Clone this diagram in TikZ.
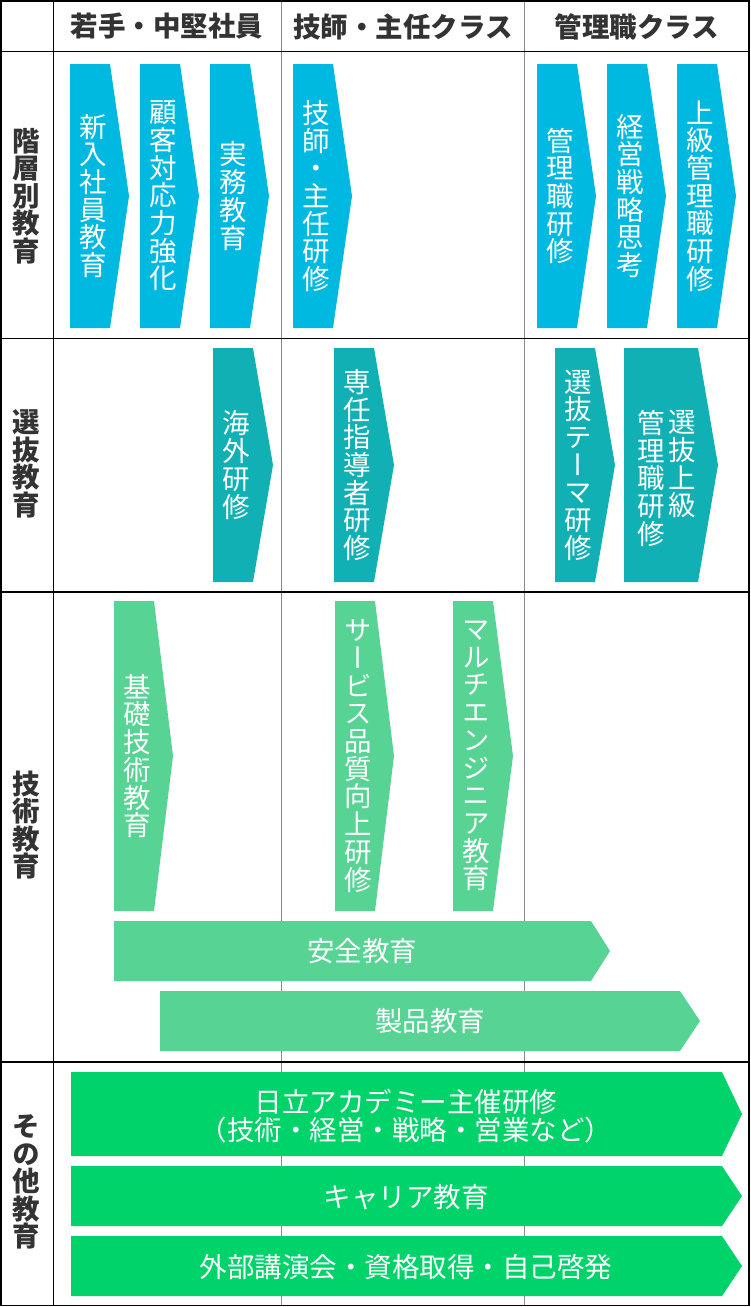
\documentclass[tikz,border=0pt]{standalone}
\usepackage{fontspec}
\setmainfont{Noto Sans CJK JP}
\newfontfamily\tatefont[RawFeature=+vert]{Noto Sans CJK JP}
\definecolor{kaisoufill}{HTML}{00B9E0}
\definecolor{senbatsufill}{HTML}{10B0B4}
\definecolor{gijutsufill}{HTML}{57D494}
\definecolor{sonotafill}{HTML}{00D36A}
\definecolor{rulegray}{HTML}{8A8A8A}
\definecolor{textgray}{HTML}{333333}
\tikzset{
  rule/.style={line width=1.6pt, black},
  subrule/.style={line width=1pt, rulegray},
  hdr/.style={inner sep=0pt, text=textgray, font=\bfseries\fontsize{27.5}{27.7}\selectfont},
  rowlbl/.style={inner sep=0pt, text=textgray, align=center, font=\tatefont\bfseries\fontsize{27.5}{27.6}\selectfont},
  vtext/.style={inner sep=0pt, text=white, align=center, font=\tatefont\fontsize{27.5}{27.7}\selectfont},
  htext/.style={inner sep=0pt, text=white, align=center, font=\fontsize{27.5}{28.3}\selectfont}
}
% chevron: colour, left, right, tip, top, bottom
\newcommand{\chev}[6]{\fill[#1] (#2,#5) -- (#3,#5) -- (#4,{(#5+#6)/2}) -- (#3,#6) -- (#2,#6) -- cycle;}

\begin{document}
\begin{tikzpicture}[x=1pt,y=-1pt]
\useasboundingbox (0,0) rectangle (750,1307);
% grid
\draw[subrule] (281.7,0) -- (281.7,1306) (524.6,0) -- (524.6,1306);
\draw[rule] (0.8,0.8) rectangle (749.2,1305.5);
\draw[rule] (53.5,0) -- (53.5,1306);
\foreach \y in {51.5,338.3,591.7,1061.7}
  \draw[rule] (0,\y) -- (750,\y);

% headers
\node[hdr] (wakate) at (167,26.5) {若手・中堅社員};
\node[hdr] (gishi) at (403,26.5) {技師・主任クラス};
\node[hdr] (kanri) at (637,26.5) {管理職クラス};

\node[rowlbl] (kaisou) at (26,196) {階\\層\\別\\教\\育};
\node[rowlbl] (senbatsu) at (26,464) {選\\抜\\教\\育};
\node[rowlbl] (gijutsu) at (26,825) {技\\術\\教\\育};
\node[rowlbl] (sonota) at (26,1182) {そ\\の\\他\\教\\育};

% kaisou-betsu
\chev{kaisoufill}{70}{110}{129}{64}{328}
\chev{kaisoufill}{140}{180}{199}{64}{328}
\chev{kaisoufill}{210}{250}{269}{64}{328}
\chev{kaisoufill}{293}{333}{352}{64}{328}
\chev{kaisoufill}{537}{577}{596}{64}{328}
\chev{kaisoufill}{607}{647}{666}{64}{328}
\chev{kaisoufill}{677}{717}{736}{64}{328}
\node[vtext] (shinnyu) at (93,196) {新\\入\\社\\員\\教\\育};
\node[vtext] (kokyaku) at (163,196) {顧\\客\\対\\応\\力\\強\\化};
\node[vtext] (jitsumu) at (233,196) {実\\務\\教\\育};
\node[vtext] (shunin) at (316,196) {技\\師\\・\\主\\任\\研\\修};
\node[vtext] (kanrishoku) at (560,196) {管\\理\\職\\研\\修};
\node[vtext] (keiei) at (630,196) {経\\営\\戦\\略\\思\\考};
\node[vtext] (joukyu) at (700,196) {上\\級\\管\\理\\職\\研\\修};

% senbatsu
\chev{senbatsufill}{213}{253}{273}{348}{582}
\chev{senbatsufill}{334}{374}{394}{348}{582}
\chev{senbatsufill}{555}{595}{615}{348}{582}
\chev{senbatsufill}{624}{698}{718}{348}{582}
\node[vtext] (kaigai) at (236,465) {海\\外\\研\\修};
\node[vtext] (sennin) at (357,465) {専\\任\\指\\導\\者\\研\\修};
\node[vtext] (theme) at (578,465) {選\\抜\\テ\\ー\\マ\\研\\修};
\node[vtext, anchor=north] (senjou) at (682,410) {選\\抜\\上\\級};
\node[vtext, anchor=north] (senkanri) at (651,410) {管\\理\\職\\研\\修};

% gijutsu
\chev{gijutsufill}{114}{154}{173}{601}{911}
\chev{gijutsufill}{335}{375}{394}{601}{911}
\chev{gijutsufill}{453}{493}{513}{601}{911}
\chev{gijutsufill}{114}{591}{610}{921}{981}
\chev{gijutsufill}{160}{680}{700}{991}{1051}
\node[vtext] (kiso) at (137,756) {基\\礎\\技\\術\\教\\育};
\node[vtext] (service) at (358,756) {サ\\ー\\ビ\\ス\\品\\質\\向\\上\\研\\修};
\node[vtext] (multi) at (476,756) {マ\\ル\\チ\\エ\\ン\\ジ\\ニ\\ア\\教\\育};
\node[htext] (anzen) at (362,951) {安全教育};
\node[htext] (seihin) at (430,1021) {製品教育};

% sonota
\chev{sonotafill}{71}{722}{742}{1072}{1156}
\chev{sonotafill}{71}{722}{742}{1166}{1226}
\chev{sonotafill}{71}{722}{742}{1236}{1296}
\node[htext] (academy) at (406,1116) {日立アカデミー主催研修\\（技術・経営・戦略・営業など）};
\node[htext] (career) at (406,1197) {キャリア教育};
\node[htext] (gaibu) at (406,1267) {外部講演会・資格取得・自己啓発};
\end{tikzpicture}
\end{document}
